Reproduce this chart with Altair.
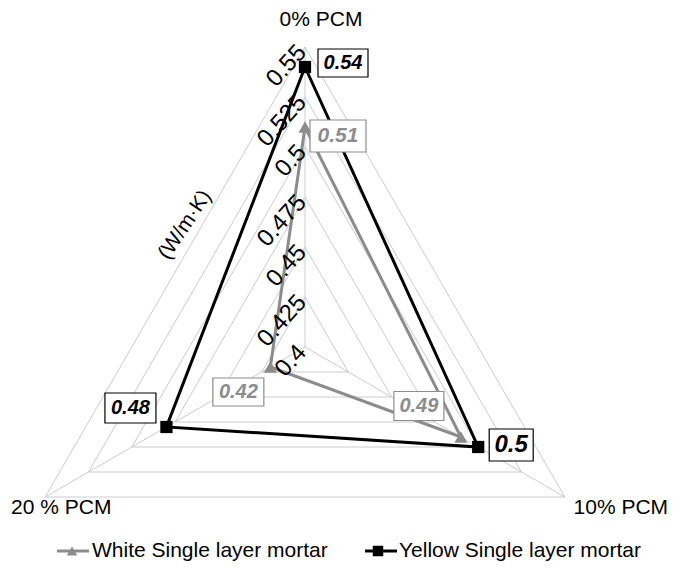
import altair as alt
import pandas as pd

# ---------------- data ----------------
categories = ["0% PCM", "10% PCM", "20 % PCM"]
series_names = ["White Single layer mortar", "Yellow Single layer mortar"]
white_values = [0.51, 0.49, 0.42]
yellow_values = [0.54, 0.50, 0.48]
tick_values = [0.4, 0.425, 0.45, 0.475, 0.5, 0.525, 0.55]
tick_labels = ["0.4", "0.425", "0.45", "0.475", "0.5", "0.525", "0.55"]
axis_min, axis_max = 0.4, 0.55
unit_title = "(W/m·K)"

# ---------------- style ----------------
FONT = "Liberation Sans"
GRID = "#cccccc"
SERIES_COLOR = {series_names[0]: "#8c8c8c", series_names[1]: "#000000"}
SERIES_SHAPE = {series_names[0]: "triangle-up", series_names[1]: "square"}
SERIES_SIZE = {series_names[0]: 170, series_names[1]: 150}

PAD = 4
OX, OY = 8 + PAD, 8 + PAD          # page position of the plot origin
W, H = 652, 548
K = 2000.0                          # px per data unit (radius)
CX, CY = 305.0 - OX, 347.0 - OY     # centre in plot pixels
XMIN = -CX / K
XMAX = XMIN + W / K
YMAX = CY / K
YMIN = YMAX - H / K

xs = alt.Scale(domain=[XMIN, XMAX], nice=False, zero=False)
ys = alt.Scale(domain=[YMIN, YMAX], nice=False, zero=False)

# ---------------- tables ----------------
rows = []
for s, vals in zip(series_names, [white_values, yellow_values]):
    for i, (c, v) in enumerate(zip(categories, vals)):
        rows.append({"series": s, "category": c, "idx": i, "value": v})
    rows.append({"series": s, "category": categories[0], "idx": 3, "value": vals[0]})
series_df = pd.DataFrame(rows)

grid_rows = []
for lv in tick_values:
    for i in range(4):
        grid_rows.append({"level": lv, "idx": i, "value": lv})
grid_df = pd.DataFrame(grid_rows)

spoke_rows = []
for i, c in enumerate(categories):
    spoke_rows.append({"category": c, "idx": i, "value": axis_min, "o": 0})
    spoke_rows.append({"category": c, "idx": i, "value": axis_max, "o": 1})
spoke_df = pd.DataFrame(spoke_rows)

cat_df = pd.DataFrame({"category": categories, "idx": list(range(3)), "value": [axis_max] * 3})
tick_df = pd.DataFrame({"label": tick_labels, "idx": [0] * len(tick_values), "value": tick_values})
legend_df = pd.DataFrame({"series": series_names})


def polar(chart):
    return chart.transform_calculate(
        ang="(datum.idx % 3) * 2 * PI / 3",
        r=f"datum.value - {axis_min}",
    ).transform_calculate(
        x="datum.r * sin(datum.ang)",
        y="datum.r * cos(datum.ang)",
    )


X = alt.X("x:Q", scale=xs, axis=None)
Y = alt.Y("y:Q", scale=ys, axis=None)

grid = polar(alt.Chart(grid_df)).mark_line(color=GRID, strokeWidth=1).encode(
    x=X, y=Y, detail="level:N", order="idx:Q"
)
spokes = polar(alt.Chart(spoke_df)).mark_line(color=GRID, strokeWidth=1).encode(
    x=X, y=Y, detail="category:N", order="o:Q"
)

layers = [grid, spokes]

for s in series_names:
    base = polar(alt.Chart(series_df).transform_filter(alt.datum.series == s))
    layers.append(
        base.mark_line(color=SERIES_COLOR[s], strokeWidth=3).encode(x=X, y=Y, order="idx:Q")
    )
for s in series_names:
    base = polar(alt.Chart(series_df).transform_filter((alt.datum.series == s) & (alt.datum.idx < 3)))
    layers.append(
        base.mark_point(
            shape=SERIES_SHAPE[s], filled=True, opacity=1, color=SERIES_COLOR[s], size=SERIES_SIZE[s]
        ).encode(x=X, y=Y)
    )

# data labels: (dx, dy, box w, box h, font size)
label_style = {
    (series_names[1], 0): (38, -4, 50, 28, 20),
    (series_names[0], 0): (33, 9, 56, 32, 21),
    (series_names[0], 2): (-32, 25, 51, 28, 20),
    (series_names[1], 2): (-36, -19, 51, 30, 20),
    (series_names[0], 1): (-42, -31, 50, 29, 20),
    (series_names[1], 1): (33, -2, 44, 32, 24),
}
for (s, i), (dx, dy, bw, bh, fs) in label_style.items():
    base = polar(
        alt.Chart(series_df).transform_filter((alt.datum.series == s) & (alt.datum.idx == i))
    )
    layers.append(
        base.mark_rect(
            width=bw, height=bh, xOffset=dx, yOffset=dy, fill="white",
            stroke=SERIES_COLOR[s], strokeWidth=1.2,
        ).encode(x=X, y=Y)
    )
    layers.append(
        base.mark_text(
            dx=dx, dy=dy, font=FONT, fontSize=fs, fontStyle="italic", fontWeight="bold",
            color=SERIES_COLOR[s], align="center", baseline="middle",
        ).encode(x=X, y=Y, text=alt.Text("value:Q", format=".2~f"))
    )

# category labels
cat_offsets = [(16, -27), (56, 11), (16, 11)]
for i, (dx, dy) in enumerate(cat_offsets):
    base = polar(alt.Chart(cat_df).transform_filter(alt.datum.idx == i))
    layers.append(
        base.mark_text(
            dx=dx, dy=dy, font=FONT, fontSize=21, color="#000000", align="center", baseline="middle"
        ).encode(x=X, y=Y, text="category:N")
    )

# radial tick labels
layers.append(
    polar(alt.Chart(tick_df)).mark_text(
        font=FONT, fontSize=24, angle=312, align="right", baseline="middle", dx=-3, dy=-1,
        color="#000000",
    ).encode(x=X, y=Y, text="label:N")
)

# unit title
layers.append(
    alt.Chart(pd.DataFrame({"t": [unit_title]})).mark_text(
        font=FONT, fontSize=21, angle=304, align="center", baseline="middle", color="#000000"
    ).encode(x=alt.value(185 - OX), y=alt.value(225 - OY), text="t:N")
)

# legend (page pixel positions converted to plot pixels)
leg_pos = {series_names[0]: (57, 89, 72, 92), series_names[1]: (365, 397, 378, 399)}
LEG_Y = 551 - OY
for s in series_names:
    x0, x1, xm, xt = leg_pos[s]
    ld = alt.Chart(legend_df).transform_filter(alt.datum.series == s)
    layers.append(
        ld.mark_rule(color=SERIES_COLOR[s], strokeWidth=3).encode(
            x=alt.value(x0 - OX), x2=alt.value(x1 - OX), y=alt.value(LEG_Y), y2=alt.value(LEG_Y)
        )
    )
    layers.append(
        ld.mark_point(shape=SERIES_SHAPE[s], filled=True, opacity=1, color=SERIES_COLOR[s], size=110).encode(
            x=alt.value(xm - OX), y=alt.value(LEG_Y)
        )
    )
    layers.append(
        ld.mark_text(font=FONT, fontSize=21, align="left", baseline="middle", color="#000000").encode(
            x=alt.value(xt - OX), y=alt.value(LEG_Y), text="series:N"
        )
    )

chart = alt.layer(*layers).properties(
    width=W, height=H, autosize=alt.AutoSizeParams(type="none"), padding=PAD,
    view=alt.ViewBackground(stroke="transparent", strokeWidth=0, fill="white"),
).configure_view(strokeWidth=0, stroke="transparent").configure(background="white")

chart.save("out.html", embed_options={"renderer": "svg", "actions": False})
